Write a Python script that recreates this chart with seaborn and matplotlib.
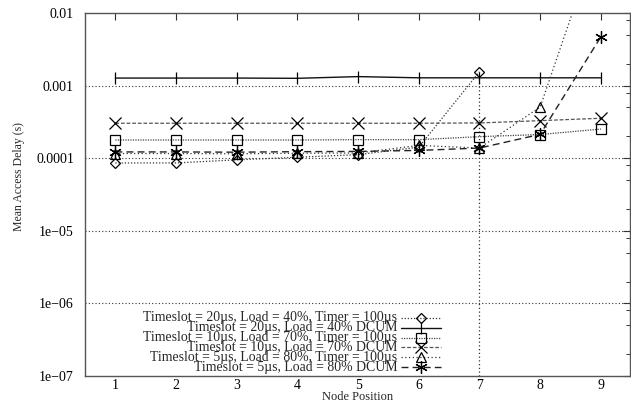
import numpy as np
import pandas as pd
import matplotlib
matplotlib.use("Agg")
import matplotlib.pyplot as plt
import seaborn as sns
from matplotlib.lines import Line2D
from matplotlib.ticker import FixedLocator, FixedFormatter, LogLocator, NullFormatter

# ---------------- data ----------------
nodes9 = [1, 2, 3, 4, 5, 6, 7, 8, 9]
nodes7 = [1, 2, 3, 4, 5, 6, 7]

ts20_timer = [8.6e-5, 8.6e-5, 9.5e-5, 1.03e-4, 1.12e-4, 1.42e-4, 1.55e-3]
ts20_dcum = [1.27e-3, 1.27e-3, 1.27e-3, 1.26e-3, 1.33e-3, 1.28e-3, 1.28e-3, 1.28e-3, 1.28e-3]
ts10_timer = [1.78e-4, 1.78e-4, 1.78e-4, 1.78e-4, 1.80e-4, 1.80e-4, 1.98e-4, 2.12e-4, 2.52e-4]
ts10_dcum = [3.03e-4, 3.03e-4, 3.03e-4, 3.03e-4, 3.03e-4, 3.03e-4, 3.06e-4, 3.29e-4, 3.55e-4]
ts5_timer = [1.16e-4, 1.16e-4, 1.15e-4, 1.17e-4, 1.18e-4, 1.50e-4, 1.38e-4, 5.07e-4, 1.4e-1]
ts5_dcum = [1.22e-4, 1.22e-4, 1.21e-4, 1.23e-4, 1.24e-4, 1.28e-4, 1.38e-4, 2.13e-4, 4.7e-3]

labels = [
    "Timeslot = 20µs, Load = 40%, Timer = 100µs",
    "Timeslot = 20µs, Load = 40% DCUM",
    "Timeslot = 10µs, Load = 70%, Timer = 100µs",
    "Timeslot = 10µs, Load = 70% DCUM",
    "Timeslot = 5µs, Load = 80%, Timer = 100µs",
    "Timeslot = 5µs, Load = 80% DCUM",
]

y_ticks = [1e-7, 1e-6, 1e-5, 1e-4, 1e-3, 1e-2]
y_ticklabels = ["1e\u221207", "1e\u221206", "1e\u221205", "0.0001", "0.001", "0.01"]
x_ticks = [1, 2, 3, 4, 5, 6, 7, 8, 9]

# ---------------- style ----------------
sns.set_theme(style="white")
plt.rcParams["font.family"] = ["Liberation Serif", "DejaVu Serif"]

W, H = 631, 403
fig = plt.figure(figsize=(W / 100, H / 100), dpi=100)
ax = fig.add_axes([85 / W, 1 - 376 / H, (630 - 85) / W, (376 - 13) / H])

styles = [
    dict(marker="D", markersize=5.5, linestyle=(0, (1, 1.5)), color="#333333", lw=0.9),
    dict(marker="|", markersize=9, linestyle="-", color="#111111", lw=1.0),
    dict(marker="s", markersize=7, linestyle=(0, (1, 1)), color="#444444", lw=0.9),
    dict(marker="x", markersize=8, linestyle=(0, (3, 1.5)), color="#555555", lw=0.9),
    dict(marker="^", markersize=7, linestyle=(0, (1, 2)), color="#333333", lw=0.9),
    dict(marker=(6, 2, 0), markersize=9, linestyle=(0, (5, 3)), color="#222222", lw=1.0),
]
data = [(nodes7, ts20_timer), (nodes9, ts20_dcum), (nodes9, ts10_timer),
        (nodes9, ts10_dcum), (nodes9, ts5_timer), (nodes9, ts5_dcum)]

for (xs, ys), st, lab in zip(data, styles, labels):
    df = pd.DataFrame({"node": xs, "delay": ys})
    sns.lineplot(data=df, x="node", y="delay", ax=ax, legend=False,
                 marker=st["marker"], markersize=st["markersize"],
                 linestyle=st["linestyle"], color=st["color"], lw=st["lw"],
                 markerfacecolor="none", markeredgecolor="black",
                 markeredgewidth=0.9, estimator=None, sort=False)

ax.set_yscale("log")
ax.set_ylim(1e-7, 1e-2)
ax.set_xlim(0.5, 9.48)

# drop of the Timer series after node 7 (drawn down to the axis floor)
ax.vlines(nodes7[-1], 1e-7, ts20_timer[-1], colors="#333333",
          linestyles=(0, (1, 2)), lw=0.9, zorder=1)

# horizontal dotted grid
for yv in y_ticks[1:-1]:
    ax.axhline(yv, color="#333333", lw=0.8, linestyle=(0, (1, 2)), zorder=0)

ax.yaxis.set_major_locator(FixedLocator(y_ticks))
ax.yaxis.set_major_formatter(FixedFormatter(y_ticklabels))
ax.yaxis.set_minor_locator(LogLocator(base=10, subs=(2, 5, 8)))
ax.yaxis.set_minor_formatter(NullFormatter())
ax.xaxis.set_major_locator(FixedLocator(x_ticks))
ax.set_xticklabels([str(v) for v in x_ticks])

ax.tick_params(axis="both", which="both", direction="in", top=True, right=True,
               colors="#333333", labelcolor="black", labelsize=10)
ax.tick_params(axis="both", which="major", length=5, width=0.8)
ax.tick_params(axis="x", which="major", pad=2)
ax.tick_params(axis="y", which="major", pad=8)
ax.tick_params(axis="y", which="minor", length=3, width=0.7)

for sp in ax.spines.values():
    sp.set_color("#555555")
    sp.set_linewidth(1.0)

ax.set_xlabel("Node Position", fontsize=9)
ax.xaxis.set_label_coords(0.5, -0.042)
ax.set_ylabel("Mean Access Delay (s)", fontsize=8.5)
ax.yaxis.set_label_coords(-0.110, 0.55)

# ---------------- key (gnuplot style: right-aligned text, sample on the right) ----------------
text_right = 397
h_x0, h_x1 = 401, 441
y0, dy = 318, 9.8
for i, (st, lab) in enumerate(zip(styles, labels)):
    yp = y0 + dy * i
    fig.text(text_right / W, 1 - yp / H, lab, ha="right", va="center", fontsize=9.9)
    fig.add_artist(Line2D([h_x0 / W, h_x1 / W], [1 - yp / H, 1 - yp / H],
                          transform=fig.transFigure, linestyle=st["linestyle"],
                          color=st["color"], lw=st["lw"]))
    fig.add_artist(Line2D([(h_x0 + h_x1) / 2 / W], [1 - yp / H],
                          transform=fig.transFigure, marker=st["marker"],
                          markersize=st["markersize"], markerfacecolor="none",
                          markeredgecolor="black", markeredgewidth=0.9,
                          linestyle="none"))

fig.savefig("out.png", dpi=100)
